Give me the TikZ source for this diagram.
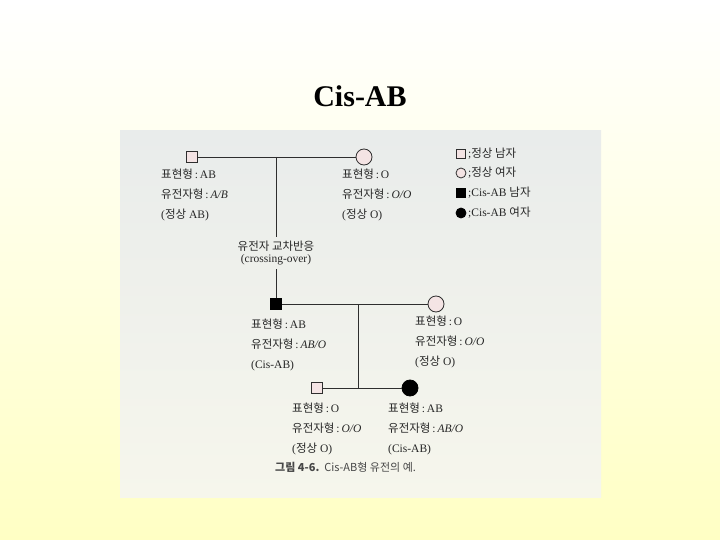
\documentclass[tikz,border=0pt]{standalone}
\usepackage{fontspec}
\setmainfont{Liberation Serif}
\newfontfamily\kr{Noto Sans CJK KR}
\newcommand{\ko}[1]{{\kr #1}}
\definecolor{edge}{HTML}{2E2E2E}
\definecolor{ink}{HTML}{262626}
\definecolor{pinkish}{HTML}{F4E4E4}
\definecolor{bgyellow}{HTML}{FFFFC4}
\definecolor{photoA}{HTML}{E9ECEB}
\definecolor{photoB}{HTML}{F6F6EC}

\begin{document}
\begin{tikzpicture}[x=1pt, y=-1pt,
    male/.style={draw=edge, fill=pinkish, rectangle, minimum size=11pt, inner sep=0pt, line width=0.8pt},
    female/.style={draw=edge, fill=pinkish, circle, minimum size=16pt, inner sep=0pt, line width=0.8pt},
    cismale/.style={male, fill=black, draw=black},
    cisfemale/.style={female, fill=black, draw=black},
    keymale/.style={male, minimum size=9pt},
    keyfemale/.style={female, minimum size=10pt},
    info/.style={anchor=north west, align=left, inner sep=0pt, text=ink, font=\fontsize{11.5}{20}\selectfont},
    keytext/.style={anchor=west, inner sep=0pt, text=ink, font=\fontsize{11.5}{12}\selectfont},
    line/.style={draw=edge, line width=0.8pt}]
    % background and scanned page
    \useasboundingbox (0,0) rectangle (720,540);
    \shade[top color=white, bottom color=bgyellow] (0,0) rectangle (720,540);
    \shade[top color=photoA, bottom color=photoB] (120,131) rectangle (601,497);

    \node[font=\bfseries\fontsize{30}{32}\selectfont] (title) at (360,96) {Cis-AB};

    % first generation
    \node[male] (m1) at (192,157) {};
    \node[female] (f1) at (364,157) {};
    \draw[line] (m1) -- (f1);
    \coordinate (j1) at (276,157);
    \node[align=center, inner sep=4pt, text=ink, font=\fontsize{11.5}{12.5}\selectfont] (xo) at (276,253) {\ko{유전자 교차반응}\\(crossing-over)};

    \node[info] (m1i) at (161,169) {\ko{표현형}\,:\,AB\\\ko{유전자형}\,:\,\textit{A/B}\\(\ko{정상} AB)};
    \node[info] (f1i) at (342,169) {\ko{표현형}\,:\,O\\\ko{유전자형}\,:\,\textit{O/O}\\(\ko{정상} O)};

    % second generation
    \node[cismale] (m2) at (276,304) {};
    \node[female] (f2) at (436,304) {};
    \draw[line] (j1) -- (xo);
    \draw[line] (xo) -- (m2);
    \draw[line] (m2) -- (f2);
    \coordinate (j2) at (358,304);

    \node[info] (m2i) at (251,319) {\ko{표현형}\,:\,AB\\\ko{유전자형}\,:\,\textit{AB/O}\\(Cis-AB)};
    \node[info] (f2i) at (415,316) {\ko{표현형}\,:\,O\\\ko{유전자형}\,:\,\textit{O/O}\\(\ko{정상} O)};

    % third generation
    \node[male] (m3) at (317,388) {};
    \node[cisfemale] (f3) at (410,388) {};
    \coordinate (j3) at (358,388);
    \draw[line] (m3) -- (f3);
    \draw[line] (j2) -- (j3);

    \node[info] (m3i) at (292,403) {\ko{표현형}\,:\,O\\\ko{유전자형}\,:\,\textit{O/O}\\(\ko{정상} O)};
    \node[info] (f3i) at (388,403) {\ko{표현형}\,:\,AB\\\ko{유전자형}\,:\,\textit{AB/O}\\(Cis-AB)};

    % legend
    \node[keymale] (k1) at (461,154) {};
    \node[keyfemale] (k2) at (461,173) {};
    \node[keymale, fill=black, draw=black] (k3) at (461,193) {};
    \node[keyfemale, fill=black, draw=black] (k4) at (461,213) {};
    \node[keytext] (k1t) at (468,154) {;\ko{정상 남자}};
    \node[keytext] (k2t) at (468,173) {;\ko{정상 여자}};
    \node[keytext] (k3t) at (468,193) {;Cis-AB \ko{남자}};
    \node[keytext] (k4t) at (468,213) {;Cis-AB \ko{여자}};

    \node[anchor=west, inner sep=0pt, text=ink!85, font=\kr\fontsize{11}{12}\selectfont] (caption) at (275,467) {\textbf{그림 4-6.}\ \ Cis-AB형 유전의 예.};
\end{tikzpicture}
\end{document}
